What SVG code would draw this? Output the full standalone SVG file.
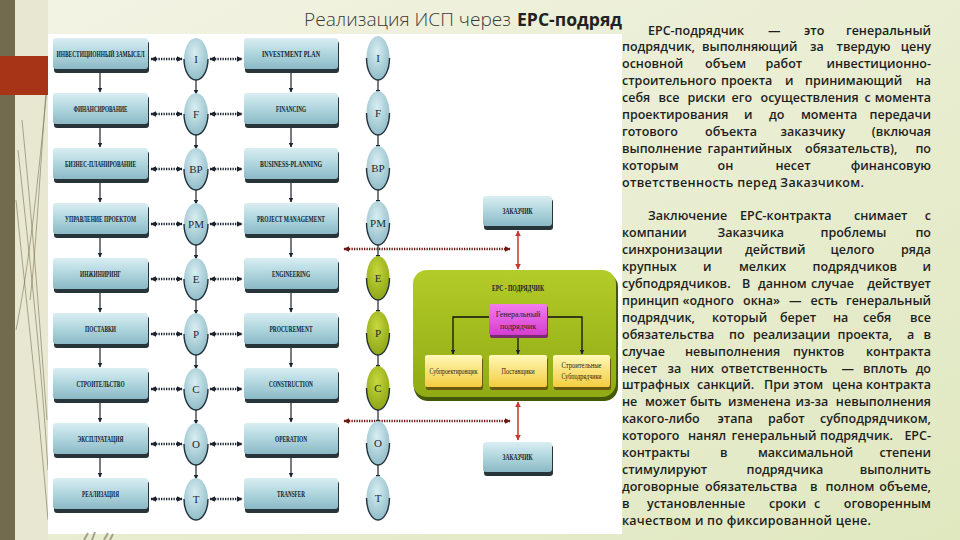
<svg xmlns="http://www.w3.org/2000/svg" width="960" height="540" viewBox="0 0 960 540">
<defs>
<linearGradient id="bg" x1="0" y1="0" x2="1" y2="1"><stop offset="0" stop-color="#f3f3e4"/><stop offset="1" stop-color="#e0e8c0"/></linearGradient>
<linearGradient id="gb" x1="0" y1="0" x2="0" y2="1"><stop offset="0" stop-color="#d9eef2"/><stop offset=".55" stop-color="#acd3dc"/><stop offset="1" stop-color="#8bb9c5"/></linearGradient>
<radialGradient id="ge" cx=".45" cy=".35" r=".75"><stop offset="0" stop-color="#d8eef2"/><stop offset="1" stop-color="#86b5c2"/></radialGradient>
<radialGradient id="gg" cx=".45" cy=".35" r=".75"><stop offset="0" stop-color="#c6d83c"/><stop offset="1" stop-color="#869e12"/></radialGradient>
<linearGradient id="gepc" x1="0" y1="0" x2="0" y2="1"><stop offset="0" stop-color="#b4cc28"/><stop offset="1" stop-color="#8faa14"/></linearGradient>
<linearGradient id="gy" x1="0" y1="0" x2="0" y2="1"><stop offset="0" stop-color="#fff8b8"/><stop offset="1" stop-color="#f4cc40"/></linearGradient>
<linearGradient id="gp" x1="0" y1="0" x2="0" y2="1"><stop offset="0" stop-color="#f27cee"/><stop offset="1" stop-color="#d43ed0"/></linearGradient>
<marker id="ah" viewBox="0 0 10 10" refX="9" refY="5" markerWidth="5" markerHeight="5" orient="auto-start-reverse" markerUnits="userSpaceOnUse"><path d="M0 0 L10 5 L0 10 z" fill="#1c2430"/></marker>
<marker id="ad" viewBox="0 0 10 10" refX="9" refY="5" markerWidth="6" markerHeight="6" orient="auto-start-reverse" markerUnits="userSpaceOnUse"><path d="M0 0 L10 5 L0 10 z" fill="#1c2430"/></marker>
<marker id="ar" viewBox="0 0 10 10" refX="9" refY="5" markerWidth="6" markerHeight="6" orient="auto-start-reverse" markerUnits="userSpaceOnUse"><path d="M0 0 L10 5 L0 10 z" fill="#c8372a"/></marker>
<marker id="ard" viewBox="0 0 10 10" refX="9" refY="5" markerWidth="6" markerHeight="6" orient="auto-start-reverse" markerUnits="userSpaceOnUse"><path d="M0 0 L10 5 L0 10 z" fill="#6e1a14"/></marker>
<style>
.sh{fill:#27343a}
.bx{fill:url(#gb)}
.lb{font-family:"Liberation Serif",serif;font-weight:bold;font-size:7.5px;fill:#12222e;text-anchor:middle}
.el{fill:url(#ge)}
.elg{fill:url(#gg)}
.arc{fill:none;stroke:#22323c;stroke-width:1.4}
.et{font-family:"Liberation Serif",serif;font-size:11px;fill:#1a2a36;text-anchor:middle}
.v{stroke:#1c2430;stroke-width:1.2;fill:none;marker-end:url(#ah)}
.dt{stroke:#1c2430;stroke-width:2.4;stroke-dasharray:1.3 1.2;fill:none;marker-start:url(#ad);marker-end:url(#ad)}
.rd{stroke:#6e1a14;stroke-width:2.4;stroke-dasharray:1.3 1.2;fill:none;marker-start:url(#ard);marker-end:url(#ard)}
.rs{stroke:#c8372a;stroke-width:1.5;fill:none;marker-start:url(#ar);marker-end:url(#ar)}
.bk{stroke:#111;stroke-width:1.3;fill:none;marker-end:url(#ah)}
.st{font-family:"Liberation Serif",serif;font-size:8px;fill:#2a2010;text-anchor:middle}
.tx{font-family:"Open Sans","Noto Sans",sans-serif;font-weight:600;font-size:12.5px;fill:#1e1e1e}
.r{text-anchor:end}
.cl{fill:none;stroke:#7a7254;stroke-width:1;opacity:.6}
</style>
</defs>

<rect width="960" height="540" fill="url(#bg)"/>
<rect x="15" y="0" width="33" height="540" fill="#e8e8d2"/>
<rect x="0" y="0" width="15" height="540" fill="#736b4e"/>
<path class="cl" d="M47 88 C38 180 30 260 16 330"/>
<path class="cl" d="M46 92 C40 170 36 250 30 300"/>
<path class="cl" d="M18 150 C30 260 42 370 48 470"/>
<path class="cl" d="M16 200 C26 300 38 400 48 520"/>
<path class="cl" d="M22 120 C34 240 40 330 47 420"/>
<rect x="0" y="56" width="48" height="39" fill="#a83418"/>
<rect x="48" y="34" width="574" height="500" fill="#ffffff"/>
<path d="M84 540 L88 533 M92 540 L95 532 M104 540 L108 533 M110 540 L113 534" stroke="#8a8268" stroke-width="2" opacity=".7"/>

<g id="title">
<text x="304" y="26" font-family="'Open Sans','DejaVu Sans',sans-serif" font-weight="300" font-size="18" fill="#3a3a3a" textLength="207" lengthAdjust="spacingAndGlyphs">Реализация ИСП через</text>
<text x="517" y="26" font-family="'Open Sans','DejaVu Sans',sans-serif" font-weight="bold" font-size="18" fill="#222" textLength="105" lengthAdjust="spacingAndGlyphs">EPC-подряд</text>
</g>

<g id="connectors">
<line class="v" x1="100" y1="73" x2="100" y2="92"/><line class="v" x1="100" y1="128" x2="100" y2="147"/><line class="v" x1="100" y1="183" x2="100" y2="202"/><line class="v" x1="100" y1="238" x2="100" y2="257"/><line class="v" x1="100" y1="293" x2="100" y2="312"/><line class="v" x1="100" y1="348" x2="100" y2="367"/><line class="v" x1="100" y1="403" x2="100" y2="422"/><line class="v" x1="100" y1="458" x2="100" y2="477"/>
<line class="v" x1="291" y1="73" x2="291" y2="92"/><line class="v" x1="291" y1="128" x2="291" y2="147"/><line class="v" x1="291" y1="183" x2="291" y2="202"/><line class="v" x1="291" y1="238" x2="291" y2="257"/><line class="v" x1="291" y1="293" x2="291" y2="312"/><line class="v" x1="291" y1="348" x2="291" y2="367"/><line class="v" x1="291" y1="403" x2="291" y2="422"/><line class="v" x1="291" y1="458" x2="291" y2="477"/>
<line class="v" x1="196" y1="80" x2="196" y2="94"/><line class="v" x1="196" y1="135" x2="196" y2="149"/><line class="v" x1="196" y1="190" x2="196" y2="204"/><line class="v" x1="196" y1="245" x2="196" y2="259"/><line class="v" x1="196" y1="300" x2="196" y2="314"/><line class="v" x1="196" y1="355" x2="196" y2="369"/><line class="v" x1="196" y1="410" x2="196" y2="424"/><line class="v" x1="196" y1="465" x2="196" y2="479"/>
<line class="v" x1="378" y1="80" x2="378" y2="94"/><line class="v" x1="378" y1="135" x2="378" y2="149"/><line class="v" x1="378" y1="190" x2="378" y2="204"/><line class="v" x1="378" y1="245" x2="378" y2="259"/><line class="v" x1="378" y1="300" x2="378" y2="314"/><line class="v" x1="378" y1="355" x2="378" y2="369"/><line class="v" x1="378" y1="410" x2="378" y2="424"/><line class="v" x1="378" y1="465" x2="378" y2="479"/>
<line class="dt" x1="151" y1="59" x2="182" y2="59"/><line class="dt" x1="210" y1="59" x2="242" y2="59"/>
<line class="dt" x1="151" y1="114" x2="182" y2="114"/><line class="dt" x1="210" y1="114" x2="242" y2="114"/>
<line class="dt" x1="151" y1="169" x2="182" y2="169"/><line class="dt" x1="210" y1="169" x2="242" y2="169"/>
<line class="dt" x1="151" y1="224" x2="182" y2="224"/><line class="dt" x1="210" y1="224" x2="242" y2="224"/>
<line class="dt" x1="151" y1="279" x2="182" y2="279"/><line class="dt" x1="210" y1="279" x2="242" y2="279"/>
<line class="dt" x1="151" y1="334" x2="182" y2="334"/><line class="dt" x1="210" y1="334" x2="242" y2="334"/>
<line class="dt" x1="151" y1="389" x2="182" y2="389"/><line class="dt" x1="210" y1="389" x2="242" y2="389"/>
<line class="dt" x1="151" y1="444" x2="182" y2="444"/><line class="dt" x1="210" y1="444" x2="242" y2="444"/>
<line class="dt" x1="151" y1="499" x2="182" y2="499"/><line class="dt" x1="210" y1="499" x2="242" y2="499"/>
<line class="rd" x1="344" y1="249" x2="510" y2="249"/>
<line class="rd" x1="344" y1="421" x2="510" y2="421"/>
<line class="rs" x1="518" y1="231" x2="518" y2="269"/>
<line class="rs" x1="518" y1="402" x2="518" y2="440"/>
</g>

<g id="left-nodes">
<g id="n-l1"><rect class="sh" x="54" y="41" width="95" height="32" rx="3"/><rect class="bx" x="53" y="38" width="95" height="31" rx="3"/><text class="lb" x="100.5" y="57" textLength="88" lengthAdjust="spacingAndGlyphs">ИНВЕСТИЦИОННЫЙ ЗАМЫСЕЛ</text></g>
<g id="n-l2"><rect class="sh" x="54" y="96" width="95" height="32" rx="3"/><rect class="bx" x="53" y="93" width="95" height="31" rx="3"/><text class="lb" x="100.5" y="112" textLength="54" lengthAdjust="spacingAndGlyphs">ФИНАНСИРОВАНИЕ</text></g>
<g id="n-l3"><rect class="sh" x="54" y="151" width="95" height="32" rx="3"/><rect class="bx" x="53" y="148" width="95" height="31" rx="3"/><text class="lb" x="100.5" y="167" textLength="71" lengthAdjust="spacingAndGlyphs">БИЗНЕС-ПЛАНИРОВАНИЕ</text></g>
<g id="n-l4"><rect class="sh" x="54" y="206" width="95" height="32" rx="3"/><rect class="bx" x="53" y="203" width="95" height="31" rx="3"/><text class="lb" x="100.5" y="222" textLength="71" lengthAdjust="spacingAndGlyphs">УПРАВЛЕНИЕ ПРОЕКТОМ</text></g>
<g id="n-l5"><rect class="sh" x="54" y="261" width="95" height="32" rx="3"/><rect class="bx" x="53" y="258" width="95" height="31" rx="3"/><text class="lb" x="100.5" y="277" textLength="41" lengthAdjust="spacingAndGlyphs">ИНЖИНИРИНГ</text></g>
<g id="n-l6"><rect class="sh" x="54" y="316" width="95" height="32" rx="3"/><rect class="bx" x="53" y="313" width="95" height="31" rx="3"/><text class="lb" x="100.5" y="332" textLength="31" lengthAdjust="spacingAndGlyphs">ПОСТАВКИ</text></g>
<g id="n-l7"><rect class="sh" x="54" y="371" width="95" height="32" rx="3"/><rect class="bx" x="53" y="368" width="95" height="31" rx="3"/><text class="lb" x="100.5" y="387" textLength="48" lengthAdjust="spacingAndGlyphs">СТРОИТЕЛЬСТВО</text></g>
<g id="n-l8"><rect class="sh" x="54" y="426" width="95" height="32" rx="3"/><rect class="bx" x="53" y="423" width="95" height="31" rx="3"/><text class="lb" x="100.5" y="442" textLength="46" lengthAdjust="spacingAndGlyphs">ЭКСПЛУАТАЦИЯ</text></g>
<g id="n-l9"><rect class="sh" x="54" y="481" width="95" height="32" rx="3"/><rect class="bx" x="53" y="478" width="95" height="31" rx="3"/><text class="lb" x="100.5" y="497" textLength="37" lengthAdjust="spacingAndGlyphs">РЕАЛИЗАЦИЯ</text></g>
</g>

<g id="right-nodes">
<g id="n-r1"><rect class="sh" x="245" y="41" width="94" height="32" rx="3"/><rect class="bx" x="244" y="38" width="94" height="31" rx="3"/><text class="lb" x="291" y="57" textLength="58" lengthAdjust="spacingAndGlyphs">INVESTMENT PLAN</text></g>
<g id="n-r2"><rect class="sh" x="245" y="96" width="94" height="32" rx="3"/><rect class="bx" x="244" y="93" width="94" height="31" rx="3"/><text class="lb" x="291" y="112" textLength="30" lengthAdjust="spacingAndGlyphs">FINANCING</text></g>
<g id="n-r3"><rect class="sh" x="245" y="151" width="94" height="32" rx="3"/><rect class="bx" x="244" y="148" width="94" height="31" rx="3"/><text class="lb" x="291" y="167" textLength="62" lengthAdjust="spacingAndGlyphs">BUSINESS-PLANNING</text></g>
<g id="n-r4"><rect class="sh" x="245" y="206" width="94" height="32" rx="3"/><rect class="bx" x="244" y="203" width="94" height="31" rx="3"/><text class="lb" x="291" y="222" textLength="68" lengthAdjust="spacingAndGlyphs">PROJECT MANAGEMENT</text></g>
<g id="n-r5"><rect class="sh" x="245" y="261" width="94" height="32" rx="3"/><rect class="bx" x="244" y="258" width="94" height="31" rx="3"/><text class="lb" x="291" y="277" textLength="38" lengthAdjust="spacingAndGlyphs">ENGINEERING</text></g>
<g id="n-r6"><rect class="sh" x="245" y="316" width="94" height="32" rx="3"/><rect class="bx" x="244" y="313" width="94" height="31" rx="3"/><text class="lb" x="291" y="332" textLength="43" lengthAdjust="spacingAndGlyphs">PROCUREMENT</text></g>
<g id="n-r7"><rect class="sh" x="245" y="371" width="94" height="32" rx="3"/><rect class="bx" x="244" y="368" width="94" height="31" rx="3"/><text class="lb" x="291" y="387" textLength="44" lengthAdjust="spacingAndGlyphs">CONSTRUCTION</text></g>
<g id="n-r8"><rect class="sh" x="245" y="426" width="94" height="32" rx="3"/><rect class="bx" x="244" y="423" width="94" height="31" rx="3"/><text class="lb" x="291" y="442" textLength="32" lengthAdjust="spacingAndGlyphs">OPERATION</text></g>
<g id="n-r9"><rect class="sh" x="245" y="481" width="94" height="32" rx="3"/><rect class="bx" x="244" y="478" width="94" height="31" rx="3"/><text class="lb" x="291" y="497" textLength="28" lengthAdjust="spacingAndGlyphs">TRANSFER</text></g>
</g>

<g id="ellipses-1">
<g id="e1-I"><ellipse class="el" cx="196" cy="59" rx="12" ry="21"/><path class="arc" d="M184 59 A12 21 0 0 0 208 59"/><text class="et" x="196" y="63">I</text></g>
<g id="e1-F"><ellipse class="el" cx="196" cy="114" rx="12" ry="21"/><path class="arc" d="M184 114 A12 21 0 0 0 208 114"/><text class="et" x="196" y="118">F</text></g>
<g id="e1-BP"><ellipse class="el" cx="196" cy="169" rx="12" ry="21"/><path class="arc" d="M184 169 A12 21 0 0 0 208 169"/><text class="et" x="196" y="173">BP</text></g>
<g id="e1-PM"><ellipse class="el" cx="196" cy="224" rx="12" ry="21"/><path class="arc" d="M184 224 A12 21 0 0 0 208 224"/><text class="et" x="196" y="228">PM</text></g>
<g id="e1-E"><ellipse class="el" cx="196" cy="279" rx="12" ry="21"/><path class="arc" d="M184 279 A12 21 0 0 0 208 279"/><text class="et" x="196" y="283">E</text></g>
<g id="e1-P"><ellipse class="el" cx="196" cy="334" rx="12" ry="21"/><path class="arc" d="M184 334 A12 21 0 0 0 208 334"/><text class="et" x="196" y="338">P</text></g>
<g id="e1-C"><ellipse class="el" cx="196" cy="389" rx="12" ry="21"/><path class="arc" d="M184 389 A12 21 0 0 0 208 389"/><text class="et" x="196" y="393">C</text></g>
<g id="e1-O"><ellipse class="el" cx="196" cy="444" rx="12" ry="21"/><path class="arc" d="M184 444 A12 21 0 0 0 208 444"/><text class="et" x="196" y="448">O</text></g>
<g id="e1-T"><ellipse class="el" cx="196" cy="499" rx="12" ry="21"/><path class="arc" d="M184 499 A12 21 0 0 0 208 499"/><text class="et" x="196" y="503">T</text></g>
</g>

<g id="ellipses-2">
<g id="e2-I"><ellipse class="el" cx="378" cy="58" rx="11.5" ry="22"/><path class="arc" d="M366.5 58 A11.5 22 0 0 0 389.5 58"/><text class="et" x="378" y="62">I</text></g>
<g id="e2-F"><ellipse class="el" cx="378" cy="113" rx="11.5" ry="22"/><path class="arc" d="M366.5 113 A11.5 22 0 0 0 389.5 113"/><text class="et" x="378" y="117">F</text></g>
<g id="e2-BP"><ellipse class="el" cx="378" cy="168" rx="11.5" ry="22"/><path class="arc" d="M366.5 168 A11.5 22 0 0 0 389.5 168"/><text class="et" x="378" y="172">BP</text></g>
<g id="e2-PM"><ellipse class="el" cx="378" cy="223" rx="11.5" ry="22"/><path class="arc" d="M366.5 223 A11.5 22 0 0 0 389.5 223"/><text class="et" x="378" y="227">PM</text></g>
<g id="e2-E"><ellipse class="elg" cx="378" cy="278" rx="11.5" ry="22"/><path class="arc" d="M366.5 278 A11.5 22 0 0 0 389.5 278"/><text class="et" x="378" y="282">E</text></g>
<g id="e2-P"><ellipse class="elg" cx="378" cy="333" rx="11.5" ry="22"/><path class="arc" d="M366.5 333 A11.5 22 0 0 0 389.5 333"/><text class="et" x="378" y="337">P</text></g>
<g id="e2-C"><ellipse class="elg" cx="378" cy="388" rx="11.5" ry="22"/><path class="arc" d="M366.5 388 A11.5 22 0 0 0 389.5 388"/><text class="et" x="378" y="392">C</text></g>
<g id="e2-O"><ellipse class="el" cx="378" cy="443" rx="11.5" ry="22"/><path class="arc" d="M366.5 443 A11.5 22 0 0 0 389.5 443"/><text class="et" x="378" y="447">O</text></g>
<g id="e2-T"><ellipse class="el" cx="378" cy="498" rx="11.5" ry="22"/><path class="arc" d="M366.5 498 A11.5 22 0 0 0 389.5 498"/><text class="et" x="378" y="502">T</text></g>
</g>

<g id="zakazchik-top"><rect class="sh" x="484" y="199" width="69" height="31" rx="3"/><rect class="bx" x="483" y="196" width="69" height="30" rx="3"/><text class="lb" x="517.5" y="214" textLength="30" lengthAdjust="spacingAndGlyphs">ЗАКАЗЧИК</text></g>

<g id="epc">
<rect x="414" y="273" width="204" height="128" rx="14" fill="#44580a"/>
<rect x="413" y="270" width="203" height="127" rx="14" fill="url(#gepc)"/>
<text class="lb" x="518" y="291" textLength="52" lengthAdjust="spacingAndGlyphs">EPC - ПОДРЯДЧИК</text>
<g id="epc-connectors">
<path class="bk" d="M518 317 H453 V354"/>
<path class="bk" d="M518 317 H582 V354"/>
<path class="bk" d="M518 336 V354"/>
</g>
<g id="general"><rect x="490" y="306" width="58" height="32" rx="2" fill="#7a2a70"/><rect x="489" y="304" width="58" height="31" rx="2" fill="url(#gp)"/><text class="st" x="518" y="317">Генеральный</text><text class="st" x="518" y="329">подрядчик</text></g>
<g id="sub1"><rect x="426" y="358" width="57" height="32" rx="2" fill="#6a5a10"/><rect x="425" y="355" width="57" height="32" rx="2" fill="url(#gy)"/><text class="st" x="453.5" y="374" textLength="48" lengthAdjust="spacingAndGlyphs">Субпроектировщик</text></g>
<g id="sub2"><rect x="490" y="358" width="58" height="32" rx="2" fill="#6a5a10"/><rect x="489" y="355" width="58" height="32" rx="2" fill="url(#gy)"/><text class="st" x="518" y="374" textLength="33" lengthAdjust="spacingAndGlyphs">Поставщики</text></g>
<g id="sub3"><rect x="554" y="358" width="57" height="32" rx="2" fill="#6a5a10"/><rect x="553" y="355" width="57" height="32" rx="2" fill="url(#gy)"/><text class="st" x="581.5" y="368" textLength="40" lengthAdjust="spacingAndGlyphs">Строительные</text><text class="st" x="581.5" y="379" textLength="40" lengthAdjust="spacingAndGlyphs">Субподрядчики</text></g>
</g>

<g id="zakazchik-bottom"><rect class="sh" x="484" y="445" width="69" height="31" rx="3"/><rect class="bx" x="483" y="442" width="69" height="30" rx="3"/><text class="lb" x="517.5" y="460" textLength="30" lengthAdjust="spacingAndGlyphs">ЗАКАЗЧИК</text></g>

<g id="text-1" class="tx">
<text y="34.5"><tspan x="648">EPC-подрядчик</tspan><tspan x="768">—</tspan><tspan x="804">это</tspan></text><text class="r" x="931" y="34.5">генеральный</text>
<text y="51.4"><tspan x="622">подрядчик,</tspan><tspan x="702">выполняющий</tspan><tspan x="810">за</tspan><tspan x="836.5">твердую</tspan></text><text class="r" x="931" y="51.4">цену</text>
<text y="68.3"><tspan x="622">основной</tspan><tspan x="705">объем</tspan><tspan x="765.5">работ</tspan></text><text class="r" x="931" y="68.3">инвестиционно-</text>
<text y="85.2"><tspan x="622">строительного</tspan><tspan x="721">проекта</tspan><tspan x="785">и</tspan><tspan x="805">принимающий</tspan></text><text class="r" x="931" y="85.2">на</text>
<text y="102.1"><tspan x="622">себя</tspan><tspan x="658.5">все</tspan><tspan x="687.5">риски</tspan><tspan x="731.5">его</tspan><tspan x="760.5">осуществления</tspan><tspan x="864.5">с</tspan></text><text class="r" x="931" y="102.1">момента</text>
<text y="119"><tspan x="622">проектирования</tspan><tspan x="744">и</tspan><tspan x="769">до</tspan><tspan x="801">момента</tspan></text><text class="r" x="931" y="119">передачи</text>
<text y="135.9"><tspan x="622">готового</tspan><tspan x="705">объекта</tspan><tspan x="780.5">заказчику</tspan></text><text class="r" x="931" y="135.9">(включая</text>
<text y="152.8"><tspan x="622">выполнение</tspan><tspan x="707.5">гарантийных</tspan><tspan x="805">обязательств),</tspan></text><text class="r" x="931" y="152.8">по</text>
<text y="169.7"><tspan x="622">которым</tspan><tspan x="717.5">он</tspan><tspan x="775.5">несет</tspan></text><text class="r" x="931" y="169.7">финансовую</text>
<text x="622" y="186.6" textLength="242">ответственность перед Заказчиком.</text>
</g>

<g id="text-2" class="tx">
<text y="220.4"><tspan x="648">Заключение</tspan><tspan x="740">EPC-контракта</tspan><tspan x="854">снимает</tspan></text><text class="r" x="931" y="220.4">с</text>
<text y="237.3"><tspan x="622">компании</tspan><tspan x="717.5">Заказчика</tspan><tspan x="820.5">проблемы</tspan></text><text class="r" x="931" y="237.3">по</text>
<text y="254.2"><tspan x="622">синхронизации</tspan><tspan x="745">действий</tspan><tspan x="830.5">целого</tspan></text><text class="r" x="931" y="254.2">ряда</text>
<text y="271.1"><tspan x="622">крупных</tspan><tspan x="703">и</tspan><tspan x="739">мелких</tspan><tspan x="812.5">подрядчиков</tspan></text><text class="r" x="931" y="271.1">и</text>
<text y="288"><tspan x="622">субподрядчиков.</tspan><tspan x="742">В</tspan><tspan x="758">данном</tspan><tspan x="811">случае</tspan></text><text class="r" x="931" y="288">действует</text>
<text y="304.9"><tspan x="622">принцип</tspan><tspan x="682.5">«одного</tspan><tspan x="743">окна»</tspan><tspan x="789">—</tspan><tspan x="810.5">есть</tspan></text><text class="r" x="931" y="304.9">генеральный</text>
<text y="321.8"><tspan x="622">подрядчик,</tspan><tspan x="712">который</tspan><tspan x="780">берет</tspan><tspan x="833">на</tspan><tspan x="863">себя</tspan></text><text class="r" x="931" y="321.8">все</text>
<text y="338.7"><tspan x="622">обязательства</tspan><tspan x="729">по</tspan><tspan x="753">реализации</tspan><tspan x="837.5">проекта,</tspan><tspan x="907">а</tspan></text><text class="r" x="931" y="338.7">в</text>
<text y="355.6"><tspan x="622">случае</tspan><tspan x="685">невыполнения</tspan><tspan x="793">пунктов</tspan></text><text class="r" x="931" y="355.6">контракта</text>
<text y="372.5"><tspan x="622">несет</tspan><tspan x="667.5">за</tspan><tspan x="690.5">них</tspan><tspan x="721">ответственность</tspan><tspan x="841.5">—</tspan><tspan x="863">вплоть</tspan></text><text class="r" x="931" y="372.5">до</text>
<text y="389.4"><tspan x="622">штрафных</tspan><tspan x="697">санкций.</tspan><tspan x="764">При</tspan><tspan x="793">этом</tspan><tspan x="832">цена</tspan></text><text class="r" x="931" y="389.4">контракта</text>
<text y="406.3"><tspan x="622">не</tspan><tspan x="645">может</tspan><tspan x="690">быть</tspan><tspan x="728">изменена</tspan><tspan x="795.5">из-за</tspan></text><text class="r" x="931" y="406.3">невыполнения</text>
<text y="423.2"><tspan x="622">какого-либо</tspan><tspan x="717.5">этапа</tspan><tspan x="768">работ</tspan></text><text class="r" x="931" y="423.2">субподрядчиком,</text>
<text y="440.1"><tspan x="622">которого</tspan><tspan x="688">нанял</tspan><tspan x="731.5">генеральный</tspan><tspan x="820">подрядчик.</tspan></text><text class="r" x="931" y="440.1">EPC-</text>
<text y="457"><tspan x="622">контракты</tspan><tspan x="720">в</tspan><tspan x="758">максимальной</tspan></text><text class="r" x="931" y="457">степени</text>
<text y="473.9"><tspan x="622">стимулируют</tspan><tspan x="746.5">подрядчика</tspan></text><text class="r" x="931" y="473.9">выполнить</text>
<text y="490.8"><tspan x="622">договорные</tspan><tspan x="705">обязательства</tspan><tspan x="810">в</tspan><tspan x="825.5">полном</tspan></text><text class="r" x="931" y="490.8">объеме,</text>
<text y="507.7"><tspan x="622">в</tspan><tspan x="647">установленные</tspan><tspan x="769">сроки</tspan><tspan x="814">с</tspan></text><text class="r" x="931" y="507.7">оговоренным</text>
<text x="622" y="524.6" textLength="249">качеством и по фиксированной цене.</text>
</g>
</svg>
